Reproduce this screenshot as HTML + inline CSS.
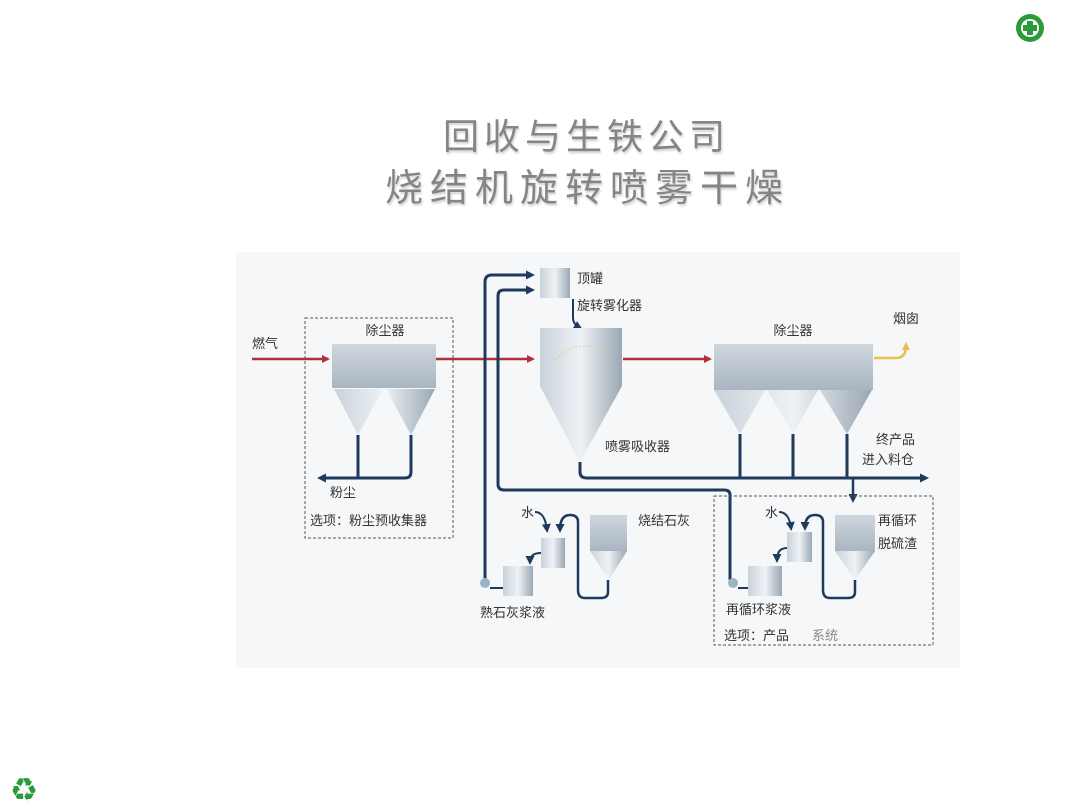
<!DOCTYPE html>
<html><head><meta charset="utf-8"><style>
body{margin:0;width:1080px;height:810px;background:#fff;overflow:hidden;font-family:"Liberation Sans","Noto Sans CJK SC",sans-serif}
.t{position:absolute;left:0;width:1080px;text-align:center;color:#858585;font-family:"Liberation Sans","Noto Sans CJK SC",sans-serif;text-shadow:1px 2px 2px #d0d0d0;line-height:1}
</style></head><body>
<div class="t" style="top:119px;font-size:36px;letter-spacing:5px;padding-left:93px;box-sizing:border-box">回收与生铁公司</div>
<div class="t" style="top:170px;font-size:38px;letter-spacing:7px;padding-left:95px;box-sizing:border-box">烧结机旋转喷雾干燥</div>
<svg width="1080" height="810" style="position:absolute;left:0;top:0" font-family="Liberation Sans, Noto Sans CJK SC, sans-serif">
<defs>
<linearGradient id="g" x1="0" x2="1"><stop offset="0" stop-color="#c9d2da"/><stop offset=".5" stop-color="#eef2f5"/><stop offset="1" stop-color="#9aa7b3"/></linearGradient>
<linearGradient id="gv" x1="0" y1="0" x2="0" y2="1"><stop offset="0" stop-color="#cfd7de"/><stop offset="1" stop-color="#a9b5c0"/></linearGradient>
<marker id="ar" markerWidth="8" markerHeight="8" refX="6" refY="4" orient="auto" markerUnits="userSpaceOnUse"><path d="M0,0 L8,4 L0,8 z" fill="#b03040"/></marker>
<marker id="ab" markerWidth="9" markerHeight="9" refX="6" refY="4.5" orient="auto" markerUnits="userSpaceOnUse"><path d="M0,0 L9,4.5 L0,9 z" fill="#1f3a5c"/></marker>
<marker id="ay" markerWidth="8" markerHeight="8" refX="4" refY="4" orient="auto" markerUnits="userSpaceOnUse"><path d="M0,0 L8,4 L0,8 z" fill="#e8c050"/></marker>
</defs>
<rect x="236" y="252" width="724" height="416" fill="#f6f7f9"/>
<circle cx="1030" cy="28" r="14" fill="#2a9a3a"/><circle cx="1030" cy="28" r="9" fill="#fff"/>
<rect x="1027" y="21" width="6" height="14" fill="#2a9a3a"/><rect x="1023" y="25" width="14" height="6" fill="#2a9a3a"/>
<text x="24" y="798" font-size="24" fill="#2a9a3a" text-anchor="middle">♻</text>
<g font-size="13" fill="#333">
<rect x="305" y="318" width="148" height="220" fill="none" stroke="#555" stroke-dasharray="3,2"/>
<text x="385" y="335" text-anchor="middle">除尘器</text>
<text x="252" y="348">燃气</text>
<line x1="252" y1="359" x2="328" y2="359" stroke="#b03040" stroke-width="2.5" marker-end="url(#ar)"/>
<rect x="332" y="344" width="104" height="44" fill="url(#gv)"/>
<path d="M334,389 L383,389 L358,435 z M386,389 L435,389 L411,435 z" fill="url(#g)"/>
<path d="M358,435 V478 M411,435 V472 Q411,478 405,478 H320" fill="none" stroke="#1f3a5c" stroke-width="3" marker-end="url(#ab)"/>
<text x="330" y="497">粉尘</text>
<text x="310" y="525">选项：粉尘预收集器</text>
<line x1="436" y1="359" x2="533" y2="359" stroke="#b03040" stroke-width="2.5" marker-end="url(#ar)"/>
<path d="M485,580 V282 Q485,275 492,275 H532" fill="none" stroke="#1f3a5c" stroke-width="3" marker-end="url(#ab)"/>
<path d="M730,580 V495 Q730,490 724,490 H504 Q498,490 498,484 V296 Q498,290 504,290 H532" fill="none" stroke="#1f3a5c" stroke-width="3" marker-end="url(#ab)"/>
<rect x="540" y="268" width="30" height="30" fill="url(#g)"/>
<text x="577" y="283">顶罐</text><text x="577" y="310">旋转雾化器</text>
<path d="M573,299 V318 Q573,324 580,328" fill="none" stroke="#1f3a5c" stroke-width="2" marker-end="url(#ab)"/>
<rect x="540" y="328" width="82" height="58" fill="url(#g)"/>
<path d="M540,386 L622,386 L580,462 z" fill="url(#g)"/>
<path d="M555,360 Q580,335 610,355" fill="none" stroke="#e8d080" stroke-dasharray="2,2"/>
<text x="605" y="451">喷雾吸收器</text>
<path d="M580,462 V472 Q580,478 587,478 H926" fill="none" stroke="#1f3a5c" stroke-width="3" marker-end="url(#ab)"/>
<line x1="623" y1="359" x2="710" y2="359" stroke="#b03040" stroke-width="2.5" marker-end="url(#ar)"/>
<text x="793" y="335" text-anchor="middle">除尘器</text>
<rect x="714" y="344" width="159" height="46" fill="url(#gv)"/>
<path d="M714,390 L765,390 L740,434 z M767,390 L818,390 L793,434 z M820,390 L872,390 L847,434 z" fill="url(#g)"/>
<path d="M740,434 V478 M793,434 V478 M847,434 V478" stroke="#1f3a5c" stroke-width="3"/>
<path d="M853,478 V500" stroke="#1f3a5c" stroke-width="2.5" marker-end="url(#ab)"/>
<path d="M874,358 H896 Q906,358 906,346" fill="none" stroke="#e8c050" stroke-width="2.5" marker-end="url(#ay)"/>
<text x="893" y="323">烟囱</text>
<text x="876" y="444">终产品</text><text x="862" y="464">进入料仓</text>
<text x="521" y="517">水</text>
<path d="M535,512 Q545,512 547,530" fill="none" stroke="#1f3a5c" stroke-width="2" marker-end="url(#ab)"/>
<path d="M608,580 V592 Q608,598 601,598 H585 Q578,598 578,590 V522 Q578,515 570,515 Q560,515 560,530" fill="none" stroke="#1f3a5c" stroke-width="2.5" marker-end="url(#ab)"/>
<rect x="541" y="538" width="24" height="30" fill="url(#g)"/>
<path d="M541,553 Q530,553 530,562" fill="none" stroke="#1f3a5c" stroke-width="2" marker-end="url(#ab)"/>
<rect x="503" y="566" width="30" height="30" fill="url(#g)"/>
<line x1="490" y1="588" x2="503" y2="588" stroke="#1f3a5c" stroke-width="2"/>
<circle cx="485" cy="583" r="5" fill="#9bb4c4"/>
<rect x="590" y="515" width="37" height="36" fill="url(#gv)"/>
<path d="M590,551 L627,551 L609,580 z" fill="url(#g)"/>
<text x="638" y="525">烧结石灰</text>
<text x="480" y="617">熟石灰浆液</text>
<rect x="714" y="496" width="219" height="149" fill="none" stroke="#555" stroke-dasharray="3,2"/>
<text x="765" y="517">水</text>
<path d="M779,512 Q789,512 791,528" fill="none" stroke="#1f3a5c" stroke-width="2" marker-end="url(#ab)"/>
<path d="M855,580 V592 Q855,598 848,598 H830 Q823,598 823,590 V522 Q823,515 815,515 Q805,515 805,528" fill="none" stroke="#1f3a5c" stroke-width="2.5" marker-end="url(#ab)"/>
<rect x="787" y="532" width="25" height="30" fill="url(#g)"/>
<path d="M787,548 Q777,548 777,560" fill="none" stroke="#1f3a5c" stroke-width="2" marker-end="url(#ab)"/>
<rect x="748" y="566" width="34" height="30" fill="url(#g)"/>
<line x1="738" y1="588" x2="748" y2="588" stroke="#1f3a5c" stroke-width="2"/>
<circle cx="733" cy="583" r="5" fill="#9bb4c4"/>
<rect x="835" y="515" width="40" height="36" fill="url(#gv)"/>
<path d="M835,551 L875,551 L855,580 z" fill="url(#g)"/>
<text x="878" y="525">再循环</text><text x="878" y="548">脱硫渣</text>
<text x="726" y="614">再循环浆液</text>
<text x="724" y="640">选项：产品</text><text x="812" y="640" fill="#888">系统</text>
</g>
</svg>
</body></html>
